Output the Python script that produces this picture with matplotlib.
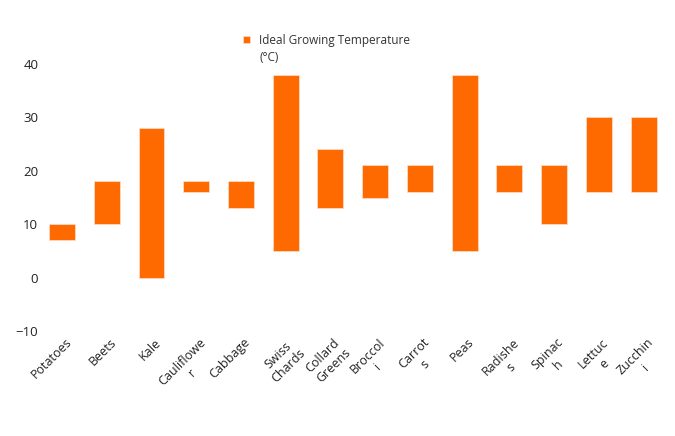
import matplotlib.pyplot as plt
from matplotlib.transforms import ScaledTranslation

plt.rcParams['font.family'] = ['Open Sans', 'DejaVu Sans']

# Datos
vegetales = ["Potatoes", "Beets", "Kale", "Cauliflowe\nr", "Cabbage", "Swiss\nChards",
             "Collard\nGreens", "Broccol\ni", "Carrot\ns", "Peas", "Radishe\ns",
             "Spinac\nh", "Lettuc\ne", "Zucchin\ni"]
temp_min = [7, 10, 0, 16, 13, 5, 13, 15, 16, 5, 16, 10, 16, 16]
temp_max = [10, 18, 28, 18, 18, 38, 24, 21, 21, 38, 21, 21, 30, 30]

color = '#FF6A00'
alto = [hi - lo for lo, hi in zip(temp_min, temp_max)]

fig = plt.figure(figsize=(6.75, 4.36), dpi=100)
ax = fig.add_axes([0.0587, 0.241, 0.928, 0.612])

pos = range(len(vegetales))
ax.bar(pos, alto, bottom=temp_min, width=0.58, color=color,
       edgecolor='#ffd9c0', linewidth=0.6, label='Ideal Growing Temperature')

ax.set_xlim(-0.5, len(vegetales) - 0.5)
ax.set_ylim(-10, 40)
ax.set_yticks([-10, 0, 10, 20, 30, 40])
for s in ax.spines.values():
    s.set_visible(False)
ax.tick_params(axis='both', length=0, colors='#222222', labelsize=9.5)
ax.tick_params(axis='y', pad=1)

ax.set_xticks(list(pos))
ax.set_xticklabels(vegetales, rotation=45, ha='right', rotation_mode='anchor',
                   multialignment='center', fontsize=9)
offset = ScaledTranslation(2 / 72, 0 / 72, fig.dpi_scale_trans)
for lbl in ax.get_xticklabels():
    lbl.set_transform(lbl.get_transform() + offset)

fig.legend(loc='upper left', bbox_to_anchor=(232 / 675, 1 - 23 / 436), frameon=False,
           handlelength=0.6, handleheight=0.6, handletextpad=0.8, fontsize=8.5,
           labelcolor='#333333')
fig.text(260 / 675, 1 - 57 / 436, '(°C)', fontsize=8.5, color='#333333', va='center')

plt.savefig('out.png', dpi=100)
